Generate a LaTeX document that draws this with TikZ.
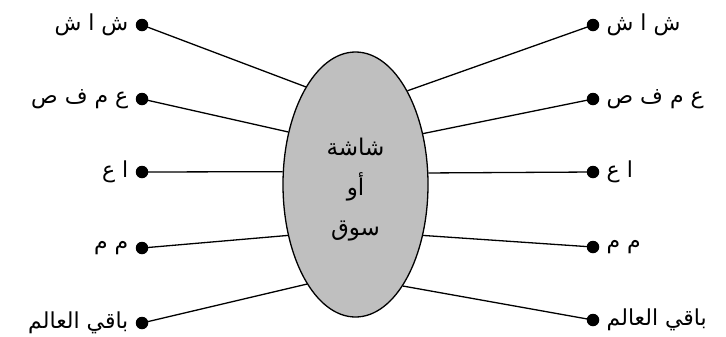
\documentclass[tikz,border=0pt]{standalone}
\usepackage{fontspec}
\setmainfont{Liberation Sans}
\newfontfamily\arabicfont[Script=Arabic]{DejaVu Sans}
\TeXXeTstate=1
\usetikzlibrary{shapes.geometric}
\tikzset{
  hub/.style={ellipse,draw=black,fill=gray!50,line width=1.3bp,minimum width=145bp,minimum height=265bp,inner sep=0pt},
  hubtext/.style={align=center,inner sep=0pt,font=\arabicfont\fontsize{23bp}{27bp}\selectfont},
  dot/.style={circle,fill=black,inner sep=0pt,minimum size=12.5bp},
  lbl/.style={font=\arabicfont\fontsize{22bp}{26bp}\selectfont,inner sep=0pt},
  link/.style={line width=1.3bp}
}
\begin{document}
\begin{tikzpicture}[x=1bp,y=-1bp]
\useasboundingbox (0,0) rectangle (726,336);
\node[hub] (e) at (355.5,184.5) {};
\node[hubtext] (c) at (355.5,190) {\beginR شاشة\endR\\[13bp]\beginR أو\endR\\[13bp]\beginR سوق\endR};
% left dots
\node[dot] (l1) at (142,25) {};
\node[dot] (l2) at (142,99) {};
\node[dot] (l3) at (142,172) {};
\node[dot] (l4) at (142,248) {};
\node[dot] (l5) at (142,323) {};
% right dots
\node[dot] (r1) at (593,25) {};
\node[dot] (r2) at (593,99) {};
\node[dot] (r3) at (593,172) {};
\node[dot] (r4) at (593,247) {};
\node[dot] (r5) at (593,320) {};
% labels
\node[lbl,anchor=east] (tl1) at ([xshift=-7bp]l1.west) {\beginR ش ا ش\endR};
\node[lbl,anchor=east] (tl2) at ([xshift=-7bp]l2.west) {\beginR ع م ف ص\endR};
\node[lbl,anchor=east] (tl3) at ([xshift=-7bp]l3.west) {\beginR ا ع\endR};
\node[lbl,anchor=east] (tl4) at ([xshift=-7bp]l4.west) {\beginR م م\endR};
\node[lbl,anchor=east] (tl5) at ([xshift=-7bp]l5.west) {\beginR باقي العالم\endR};
\node[lbl,anchor=west] (tr1) at ([xshift=7bp]r1.east) {\beginR ش ا ش\endR};
\node[lbl,anchor=west] (tr2) at ([xshift=7bp]r2.east) {\beginR ع م ف ص\endR};
\node[lbl,anchor=west] (tr3) at ([xshift=7bp]r3.east) {\beginR ا ع\endR};
\node[lbl,anchor=west] (tr4) at ([xshift=7bp]r4.east) {\beginR م م\endR};
\node[lbl,anchor=west] (tr5) at ([xshift=7bp]r5.east) {\beginR باقي العالم\endR};
% connectors
\draw[link] (l1.center) -- (e.117.4);
\draw[link] (l2.center) -- (e.142.1);
\draw[link] (l3.center) -- (e.170.2);
\draw[link] (l4.center) -- (e.217.9);
\draw[link] (l5.center) -- (e.244.9);
\draw[link] (r1.center) -- (e.61.9);
\draw[link] (r2.center) -- (e.37.3);
\draw[link] (r3.center) -- (e.9.8);
\draw[link] (r4.center) -- (e.-37.9);
\draw[link] (r5.center) -- (e.-65.8);
\end{tikzpicture}
\end{document}
